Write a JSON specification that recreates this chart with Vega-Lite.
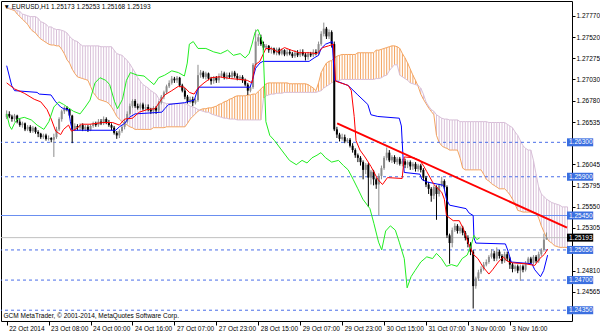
{
"$schema":"https://vega.github.io/schema/vega-lite/v6.json",
"width":571,"height":320,
"autosize":{"type":"none"},
"padding":{"left":1,"top":1,"right":28,"bottom":12},
"background":"white",
"title":{"text":"▼ EURUSD,H1  1.25173 1.25253 1.25168 1.25193","anchor":"start","offset":-9,"fontSize":6.5,"fontWeight":"normal","font":"Liberation Sans","color":"#000000","dx":3},
"config":{"view":{"stroke":"#000000","strokeWidth":1},"font":"Liberation Sans","axis":{"grid":false,"labelOverlap":false,"labelFlush":false,"labelBound":false}},
"datasets":{
"cloud":[
{"i":0,"a":1.2786,"b":1.2787},{"i":1,"a":1.2785,"b":1.2786},{"i":2,"a":1.2784,"b":1.2785},{"i":3,"a":1.2783,"b":1.2784},{"i":4,"a":1.2779,"b":1.2783},{"i":5,"a":1.2776,"b":1.2782},{"i":6,"a":1.2773,"b":1.2779},{"i":7,"a":1.2770,"b":1.2778},{"i":8,"a":1.2767,"b":1.2777},{"i":9,"a":1.2762,"b":1.2776},
{"i":10,"a":1.2759,"b":1.2776},{"i":11,"a":1.2757,"b":1.2776},{"i":12,"a":1.2753,"b":1.2774},{"i":13,"a":1.2750,"b":1.2770},{"i":14,"a":1.2748,"b":1.2769},{"i":15,"a":1.2746,"b":1.2767},{"i":16,"a":1.2744,"b":1.2764},{"i":17,"a":1.2743,"b":1.2764},{"i":18,"a":1.2743,"b":1.2762},{"i":19,"a":1.2742,"b":1.2761},
{"i":20,"a":1.2742,"b":1.2761},{"i":21,"a":1.2738,"b":1.2760},{"i":22,"a":1.2733,"b":1.2759},{"i":23,"a":1.2726,"b":1.2757},{"i":24,"a":1.2722,"b":1.2753},{"i":25,"a":1.2715,"b":1.2750},{"i":26,"a":1.2710,"b":1.2748},{"i":27,"a":1.2706,"b":1.2747},{"i":28,"a":1.2705,"b":1.2744},{"i":29,"a":1.2704,"b":1.2742},
{"i":30,"a":1.2703,"b":1.2742},{"i":31,"a":1.2702,"b":1.2742},{"i":32,"a":1.2695,"b":1.2742},{"i":33,"a":1.2688,"b":1.2742},{"i":34,"a":1.2684,"b":1.2742},{"i":35,"a":1.2680,"b":1.2742},{"i":36,"a":1.2679,"b":1.2741},{"i":37,"a":1.2678,"b":1.2741},{"i":38,"a":1.2677,"b":1.2741},{"i":39,"a":1.2675,"b":1.2741},
{"i":40,"a":1.2671,"b":1.2741},{"i":41,"a":1.2666,"b":1.2737},{"i":42,"a":1.2660,"b":1.2733},{"i":43,"a":1.2657,"b":1.2732},{"i":44,"a":1.2654,"b":1.2731},{"i":45,"a":1.2652,"b":1.2728},{"i":46,"a":1.2650,"b":1.2725},{"i":47,"a":1.2648,"b":1.2721},{"i":48,"a":1.2647,"b":1.2716},{"i":49,"a":1.2645,"b":1.2711},
{"i":50,"a":1.2645,"b":1.2705},{"i":51,"a":1.2645,"b":1.2701},{"i":52,"a":1.2645,"b":1.2697},{"i":53,"a":1.2645,"b":1.2695},{"i":54,"a":1.2645,"b":1.2693},{"i":55,"a":1.2645,"b":1.2690},{"i":56,"a":1.2647,"b":1.2688},{"i":57,"a":1.2647,"b":1.2686},{"i":58,"a":1.2647,"b":1.2681},{"i":59,"a":1.2647,"b":1.2677},
{"i":60,"a":1.2647,"b":1.2676},{"i":61,"a":1.2648,"b":1.2675},{"i":62,"a":1.2648,"b":1.2675},{"i":63,"a":1.2648,"b":1.2675},{"i":64,"a":1.2648,"b":1.2675},{"i":65,"a":1.2648,"b":1.2675},{"i":66,"a":1.2648,"b":1.2675},{"i":67,"a":1.2648,"b":1.2675},{"i":68,"a":1.2648,"b":1.2675},{"i":69,"a":1.2652,"b":1.2674},
{"i":70,"a":1.2657,"b":1.2672},{"i":71,"a":1.2660,"b":1.2671},{"i":72,"a":1.2663,"b":1.2670},{"i":73,"a":1.2666,"b":1.2668},{"i":74,"a":1.2668,"b":1.2667},{"i":75,"a":1.2669,"b":1.2666},{"i":76,"a":1.2669,"b":1.2665},{"i":77,"a":1.2670,"b":1.2665},{"i":78,"a":1.2670,"b":1.2663},{"i":79,"a":1.2671,"b":1.2662},
{"i":80,"a":1.2672,"b":1.2661},{"i":81,"a":1.2674,"b":1.2660},{"i":82,"a":1.2675,"b":1.2659},{"i":83,"a":1.2677,"b":1.2658},{"i":84,"a":1.2678,"b":1.2658},{"i":85,"a":1.2680,"b":1.2657},{"i":86,"a":1.2681,"b":1.2657},{"i":87,"a":1.2683,"b":1.2657},{"i":88,"a":1.2684,"b":1.2656},{"i":89,"a":1.2684,"b":1.2656},
{"i":90,"a":1.2684,"b":1.2656},{"i":91,"a":1.2684,"b":1.2656},{"i":92,"a":1.2685,"b":1.2656},{"i":93,"a":1.2685,"b":1.2656},{"i":94,"a":1.2686,"b":1.2656},{"i":95,"a":1.2686,"b":1.2656},{"i":96,"a":1.2689,"b":1.2656},{"i":97,"a":1.2692,"b":1.2656},{"i":98,"a":1.2695,"b":1.2681},{"i":99,"a":1.2698,"b":1.2684},
{"i":100,"a":1.2699,"b":1.2685},{"i":101,"a":1.2699,"b":1.2686},{"i":102,"a":1.2699,"b":1.2686},{"i":103,"a":1.2699,"b":1.2687},{"i":104,"a":1.2699,"b":1.2687},{"i":105,"a":1.2699,"b":1.2687},{"i":106,"a":1.2699,"b":1.2688},{"i":107,"a":1.2699,"b":1.2688},{"i":108,"a":1.2698,"b":1.2688},{"i":109,"a":1.2698,"b":1.2688},
{"i":110,"a":1.2698,"b":1.2688},{"i":111,"a":1.2698,"b":1.2688},{"i":112,"a":1.2698,"b":1.2688},{"i":113,"a":1.2698,"b":1.2688},{"i":114,"a":1.2698,"b":1.2688},{"i":115,"a":1.2697,"b":1.2688},{"i":116,"a":1.2695,"b":1.2688},{"i":117,"a":1.2693,"b":1.2688},{"i":118,"a":1.2690,"b":1.2688},{"i":119,"a":1.2699,"b":1.2689},
{"i":120,"a":1.2711,"b":1.2690},{"i":121,"a":1.2717,"b":1.2693},{"i":122,"a":1.2722,"b":1.2695},{"i":123,"a":1.2724,"b":1.2697},{"i":124,"a":1.2725,"b":1.2699},{"i":125,"a":1.2728,"b":1.2701},{"i":126,"a":1.2730,"b":1.2702},{"i":127,"a":1.2731,"b":1.2702},{"i":128,"a":1.2732,"b":1.2703},{"i":129,"a":1.2732,"b":1.2703},
{"i":130,"a":1.2732,"b":1.2703},{"i":131,"a":1.2732,"b":1.2703},{"i":132,"a":1.2732,"b":1.2703},{"i":133,"a":1.2732,"b":1.2703},{"i":134,"a":1.2734,"b":1.2703},{"i":135,"a":1.2734,"b":1.2703},{"i":136,"a":1.2734,"b":1.2703},{"i":137,"a":1.2734,"b":1.2703},{"i":138,"a":1.2734,"b":1.2703},{"i":139,"a":1.2734,"b":1.2703},
{"i":140,"a":1.2734,"b":1.2703},{"i":141,"a":1.2737,"b":1.2704},{"i":142,"a":1.2737,"b":1.2704},{"i":143,"a":1.2738,"b":1.2705},{"i":144,"a":1.2739,"b":1.2707},{"i":145,"a":1.2740,"b":1.2708},{"i":146,"a":1.2741,"b":1.2713},{"i":147,"a":1.2742,"b":1.2717},{"i":148,"a":1.2742,"b":1.2720},{"i":149,"a":1.2741,"b":1.2720},
{"i":150,"a":1.2739,"b":1.2708},{"i":151,"a":1.2733,"b":1.2706},{"i":152,"a":1.2728,"b":1.2704},{"i":153,"a":1.2722,"b":1.2702},{"i":154,"a":1.2715,"b":1.2699},{"i":155,"a":1.2708,"b":1.2698},{"i":156,"a":1.2702,"b":1.2697},{"i":157,"a":1.2695,"b":1.2696},{"i":158,"a":1.2686,"b":1.2693},{"i":159,"a":1.2680,"b":1.2686},
{"i":160,"a":1.2675,"b":1.2677},{"i":161,"a":1.2670,"b":1.2672},{"i":162,"a":1.2666,"b":1.2668},{"i":163,"a":1.2662,"b":1.2666},{"i":164,"a":1.2638,"b":1.2662},{"i":165,"a":1.2630,"b":1.2660},{"i":166,"a":1.2626,"b":1.2658},{"i":167,"a":1.2624,"b":1.2657},{"i":168,"a":1.2623,"b":1.2657},{"i":169,"a":1.2621,"b":1.2656},
{"i":170,"a":1.2621,"b":1.2656},{"i":171,"a":1.2621,"b":1.2656},{"i":172,"a":1.2621,"b":1.2656},{"i":173,"a":1.2612,"b":1.2654},{"i":174,"a":1.2600,"b":1.2654},{"i":175,"a":1.2598,"b":1.2654},{"i":176,"a":1.2598,"b":1.2654},{"i":177,"a":1.2598,"b":1.2654},{"i":178,"a":1.2598,"b":1.2654},{"i":179,"a":1.2598,"b":1.2654},
{"i":180,"a":1.2598,"b":1.2654},{"i":181,"a":1.2598,"b":1.2654},{"i":182,"a":1.2593,"b":1.2654},{"i":183,"a":1.2587,"b":1.2654},{"i":184,"a":1.2585,"b":1.2653},{"i":185,"a":1.2582,"b":1.2653},{"i":186,"a":1.2580,"b":1.2653},{"i":187,"a":1.2578,"b":1.2653},{"i":188,"a":1.2576,"b":1.2653},{"i":189,"a":1.2576,"b":1.2653},
{"i":190,"a":1.2576,"b":1.2653},{"i":191,"a":1.2573,"b":1.2651},{"i":192,"a":1.2569,"b":1.2649},{"i":193,"a":1.2564,"b":1.2647},{"i":194,"a":1.2558,"b":1.2642},{"i":195,"a":1.2551,"b":1.2638},{"i":196,"a":1.2550,"b":1.2632},{"i":197,"a":1.2549,"b":1.2626},{"i":198,"a":1.2549,"b":1.2623},{"i":199,"a":1.2549,"b":1.2621},
{"i":200,"a":1.2549,"b":1.2621},{"i":201,"a":1.2548,"b":1.2609},{"i":202,"a":1.2548,"b":1.2593},{"i":203,"a":1.2542,"b":1.2578},{"i":204,"a":1.2533,"b":1.2570},{"i":205,"a":1.2526,"b":1.2567},{"i":206,"a":1.2519,"b":1.2564},{"i":207,"a":1.2515,"b":1.2562},{"i":208,"a":1.2513,"b":1.2560},{"i":209,"a":1.2510,"b":1.2559},
{"i":210,"a":1.2509,"b":1.2558},{"i":211,"a":1.2508,"b":1.2557},{"i":212,"a":1.2508,"b":1.2555},{"i":213,"a":1.2508,"b":1.2555},{"i":214,"a":1.2508,"b":1.2555}
],
"bars":[
{"i":0,"o":1.2659,"h":1.2667,"l":1.2657,"c":1.2663},{"i":1,"o":1.2663,"h":1.2666,"l":1.2658,"c":1.2660},{"i":2,"o":1.2660,"h":1.2662,"l":1.2654,"c":1.2657},{"i":3,"o":1.2657,"h":1.2663,"l":1.2654,"c":1.2661},{"i":4,"o":1.2661,"h":1.2662,"l":1.2652,"c":1.2654},
{"i":5,"o":1.2654,"h":1.2657,"l":1.2648,"c":1.2650},{"i":6,"o":1.2650,"h":1.2654,"l":1.2647,"c":1.2652},{"i":7,"o":1.2652,"h":1.2653,"l":1.2643,"c":1.2645},{"i":8,"o":1.2645,"h":1.2650,"l":1.2643,"c":1.2648},{"i":9,"o":1.2648,"h":1.2650,"l":1.2641,"c":1.2643},
{"i":10,"o":1.2643,"h":1.2649,"l":1.2641,"c":1.2647},{"i":11,"o":1.2647,"h":1.2648,"l":1.2640,"c":1.2642},{"i":12,"o":1.2642,"h":1.2644,"l":1.2636,"c":1.2640},{"i":13,"o":1.2640,"h":1.2641,"l":1.2634,"c":1.2636},{"i":14,"o":1.2636,"h":1.2640,"l":1.2634,"c":1.2638},
{"i":15,"o":1.2638,"h":1.2640,"l":1.2632,"c":1.2634},{"i":16,"o":1.2634,"h":1.2638,"l":1.2632,"c":1.2635},{"i":17,"o":1.2635,"h":1.2636,"l":1.2630,"c":1.2633},{"i":18,"o":1.2633,"h":1.2640,"l":1.2613,"c":1.2636},{"i":19,"o":1.2636,"h":1.2648,"l":1.2634,"c":1.2645},
{"i":20,"o":1.2645,"h":1.2659,"l":1.2643,"c":1.2657},{"i":21,"o":1.2657,"h":1.2668,"l":1.2654,"c":1.2666},{"i":22,"o":1.2666,"h":1.2672,"l":1.2663,"c":1.2670},{"i":23,"o":1.2670,"h":1.2672,"l":1.2666,"c":1.2668},{"i":24,"o":1.2668,"h":1.2669,"l":1.2659,"c":1.2661},
{"i":25,"o":1.2661,"h":1.2662,"l":1.2629,"c":1.2645},{"i":26,"o":1.2645,"h":1.2652,"l":1.2643,"c":1.2649},{"i":27,"o":1.2649,"h":1.2651,"l":1.2644,"c":1.2647},{"i":28,"o":1.2647,"h":1.2652,"l":1.2644,"c":1.2650},{"i":29,"o":1.2650,"h":1.2652,"l":1.2643,"c":1.2645},
{"i":30,"o":1.2645,"h":1.2650,"l":1.2643,"c":1.2648},{"i":31,"o":1.2648,"h":1.2650,"l":1.2642,"c":1.2644},{"i":32,"o":1.2644,"h":1.2651,"l":1.2643,"c":1.2649},{"i":33,"o":1.2649,"h":1.2654,"l":1.2647,"c":1.2652},{"i":34,"o":1.2652,"h":1.2654,"l":1.2648,"c":1.2650},
{"i":35,"o":1.2650,"h":1.2657,"l":1.2648,"c":1.2654},{"i":36,"o":1.2654,"h":1.2657,"l":1.2650,"c":1.2652},{"i":37,"o":1.2652,"h":1.2660,"l":1.2650,"c":1.2657},{"i":38,"o":1.2657,"h":1.2659,"l":1.2651,"c":1.2653},{"i":39,"o":1.2653,"h":1.2656,"l":1.2648,"c":1.2650},
{"i":40,"o":1.2650,"h":1.2652,"l":1.2644,"c":1.2647},{"i":41,"o":1.2647,"h":1.2649,"l":1.2639,"c":1.2641},{"i":42,"o":1.2641,"h":1.2643,"l":1.2634,"c":1.2638},{"i":43,"o":1.2638,"h":1.2645,"l":1.2635,"c":1.2643},{"i":44,"o":1.2643,"h":1.2650,"l":1.2641,"c":1.2648},
{"i":45,"o":1.2648,"h":1.2657,"l":1.2645,"c":1.2654},{"i":46,"o":1.2654,"h":1.2666,"l":1.2652,"c":1.2663},{"i":47,"o":1.2663,"h":1.2675,"l":1.2661,"c":1.2672},{"i":48,"o":1.2672,"h":1.2680,"l":1.2670,"c":1.2678},{"i":49,"o":1.2678,"h":1.2680,"l":1.2670,"c":1.2672},
{"i":50,"o":1.2672,"h":1.2675,"l":1.2668,"c":1.2670},{"i":51,"o":1.2670,"h":1.2676,"l":1.2668,"c":1.2674},{"i":52,"o":1.2674,"h":1.2676,"l":1.2667,"c":1.2669},{"i":53,"o":1.2669,"h":1.2674,"l":1.2667,"c":1.2671},{"i":54,"o":1.2671,"h":1.2674,"l":1.2666,"c":1.2668},
{"i":55,"o":1.2668,"h":1.2670,"l":1.2663,"c":1.2666},{"i":56,"o":1.2666,"h":1.2672,"l":1.2663,"c":1.2670},{"i":57,"o":1.2670,"h":1.2672,"l":1.2663,"c":1.2667},{"i":58,"o":1.2667,"h":1.2678,"l":1.2665,"c":1.2676},{"i":59,"o":1.2676,"h":1.2685,"l":1.2674,"c":1.2683},
{"i":60,"o":1.2683,"h":1.2690,"l":1.2680,"c":1.2688},{"i":61,"o":1.2688,"h":1.2697,"l":1.2686,"c":1.2695},{"i":62,"o":1.2695,"h":1.2702,"l":1.2693,"c":1.2699},{"i":63,"o":1.2699,"h":1.2707,"l":1.2697,"c":1.2704},{"i":64,"o":1.2704,"h":1.2706,"l":1.2699,"c":1.2702},
{"i":65,"o":1.2702,"h":1.2707,"l":1.2699,"c":1.2705},{"i":66,"o":1.2705,"h":1.2706,"l":1.2694,"c":1.2696},{"i":67,"o":1.2696,"h":1.2698,"l":1.2688,"c":1.2690},{"i":68,"o":1.2690,"h":1.2693,"l":1.2680,"c":1.2683},{"i":69,"o":1.2683,"h":1.2685,"l":1.2675,"c":1.2677},
{"i":70,"o":1.2677,"h":1.2683,"l":1.2675,"c":1.2680},{"i":71,"o":1.2680,"h":1.2683,"l":1.2672,"c":1.2676},{"i":72,"o":1.2676,"h":1.2681,"l":1.2674,"c":1.2679},{"i":73,"o":1.2679,"h":1.2720,"l":1.2677,"c":1.2708},{"i":74,"o":1.2708,"h":1.2714,"l":1.2705,"c":1.2711},
{"i":75,"o":1.2711,"h":1.2713,"l":1.2704,"c":1.2706},{"i":76,"o":1.2706,"h":1.2712,"l":1.2703,"c":1.2710},{"i":77,"o":1.2710,"h":1.2711,"l":1.2702,"c":1.2704},{"i":78,"o":1.2704,"h":1.2706,"l":1.2697,"c":1.2701},{"i":79,"o":1.2701,"h":1.2707,"l":1.2698,"c":1.2705},
{"i":80,"o":1.2705,"h":1.2707,"l":1.2699,"c":1.2702},{"i":81,"o":1.2702,"h":1.2710,"l":1.2699,"c":1.2707},{"i":82,"o":1.2707,"h":1.2713,"l":1.2705,"c":1.2710},{"i":83,"o":1.2710,"h":1.2712,"l":1.2703,"c":1.2705},{"i":84,"o":1.2705,"h":1.2711,"l":1.2703,"c":1.2708},
{"i":85,"o":1.2708,"h":1.2711,"l":1.2704,"c":1.2706},{"i":86,"o":1.2706,"h":1.2713,"l":1.2704,"c":1.2711},{"i":87,"o":1.2711,"h":1.2713,"l":1.2705,"c":1.2707},{"i":88,"o":1.2707,"h":1.2710,"l":1.2702,"c":1.2704},{"i":89,"o":1.2704,"h":1.2708,"l":1.2702,"c":1.2706},
{"i":90,"o":1.2706,"h":1.2708,"l":1.2699,"c":1.2702},{"i":91,"o":1.2702,"h":1.2704,"l":1.2695,"c":1.2697},{"i":92,"o":1.2697,"h":1.2699,"l":1.2685,"c":1.2690},{"i":93,"o":1.2690,"h":1.2696,"l":1.2688,"c":1.2694},{"i":94,"o":1.2694,"h":1.2722,"l":1.2692,"c":1.2720},
{"i":95,"o":1.2720,"h":1.2761,"l":1.2717,"c":1.2747},{"i":96,"o":1.2747,"h":1.2756,"l":1.2742,"c":1.2752},{"i":97,"o":1.2752,"h":1.2755,"l":1.2742,"c":1.2744},{"i":98,"o":1.2744,"h":1.2747,"l":1.2737,"c":1.2740},{"i":99,"o":1.2740,"h":1.2744,"l":1.2738,"c":1.2742},
{"i":100,"o":1.2742,"h":1.2743,"l":1.2734,"c":1.2737},{"i":101,"o":1.2737,"h":1.2741,"l":1.2733,"c":1.2739},{"i":102,"o":1.2739,"h":1.2740,"l":1.2732,"c":1.2734},{"i":103,"o":1.2734,"h":1.2740,"l":1.2731,"c":1.2738},{"i":104,"o":1.2738,"h":1.2740,"l":1.2731,"c":1.2733},
{"i":105,"o":1.2733,"h":1.2739,"l":1.2731,"c":1.2737},{"i":106,"o":1.2737,"h":1.2738,"l":1.2730,"c":1.2732},{"i":107,"o":1.2732,"h":1.2738,"l":1.2730,"c":1.2735},{"i":108,"o":1.2735,"h":1.2738,"l":1.2731,"c":1.2733},{"i":109,"o":1.2733,"h":1.2735,"l":1.2728,"c":1.2730},
{"i":110,"o":1.2730,"h":1.2737,"l":1.2728,"c":1.2734},{"i":111,"o":1.2734,"h":1.2737,"l":1.2729,"c":1.2731},{"i":112,"o":1.2731,"h":1.2738,"l":1.2729,"c":1.2735},{"i":113,"o":1.2735,"h":1.2738,"l":1.2730,"c":1.2732},{"i":114,"o":1.2732,"h":1.2734,"l":1.2725,"c":1.2729},
{"i":115,"o":1.2729,"h":1.2735,"l":1.2726,"c":1.2733},{"i":116,"o":1.2733,"h":1.2735,"l":1.2729,"c":1.2731},{"i":117,"o":1.2731,"h":1.2738,"l":1.2729,"c":1.2735},{"i":118,"o":1.2735,"h":1.2738,"l":1.2731,"c":1.2733},{"i":119,"o":1.2733,"h":1.2747,"l":1.2731,"c":1.2744},
{"i":120,"o":1.2744,"h":1.2759,"l":1.2742,"c":1.2756},{"i":121,"o":1.2756,"h":1.2769,"l":1.2753,"c":1.2762},{"i":122,"o":1.2762,"h":1.2764,"l":1.2750,"c":1.2753},{"i":123,"o":1.2753,"h":1.2761,"l":1.2750,"c":1.2758},{"i":124,"o":1.2758,"h":1.2760,"l":1.2740,"c":1.2744},
{"i":125,"o":1.2744,"h":1.2747,"l":1.2643,"c":1.2645},{"i":126,"o":1.2645,"h":1.2648,"l":1.2635,"c":1.2639},{"i":127,"o":1.2639,"h":1.2641,"l":1.2631,"c":1.2634},{"i":128,"o":1.2634,"h":1.2640,"l":1.2632,"c":1.2636},{"i":129,"o":1.2636,"h":1.2639,"l":1.2629,"c":1.2631},
{"i":130,"o":1.2631,"h":1.2635,"l":1.2629,"c":1.2633},{"i":131,"o":1.2633,"h":1.2635,"l":1.2624,"c":1.2626},{"i":132,"o":1.2626,"h":1.2629,"l":1.2618,"c":1.2621},{"i":133,"o":1.2621,"h":1.2623,"l":1.2612,"c":1.2615},{"i":134,"o":1.2615,"h":1.2617,"l":1.2607,"c":1.2612},
{"i":135,"o":1.2612,"h":1.2614,"l":1.2603,"c":1.2607},{"i":136,"o":1.2607,"h":1.2609,"l":1.2587,"c":1.2598},{"i":137,"o":1.2598,"h":1.2606,"l":1.2593,"c":1.2604},{"i":138,"o":1.2604,"h":1.2606,"l":1.2555,"c":1.2589},{"i":139,"o":1.2589,"h":1.2598,"l":1.2581,"c":1.2596},
{"i":140,"o":1.2596,"h":1.2598,"l":1.2580,"c":1.2587},{"i":141,"o":1.2587,"h":1.2589,"l":1.2576,"c":1.2581},{"i":142,"o":1.2581,"h":1.2594,"l":1.2545,"c":1.2591},{"i":143,"o":1.2591,"h":1.2603,"l":1.2587,"c":1.2600},{"i":144,"o":1.2600,"h":1.2614,"l":1.2598,"c":1.2612},
{"i":145,"o":1.2612,"h":1.2624,"l":1.2609,"c":1.2618},{"i":146,"o":1.2618,"h":1.2621,"l":1.2607,"c":1.2609},{"i":147,"o":1.2609,"h":1.2615,"l":1.2606,"c":1.2613},{"i":148,"o":1.2613,"h":1.2615,"l":1.2605,"c":1.2607},{"i":149,"o":1.2607,"h":1.2613,"l":1.2604,"c":1.2611},
{"i":150,"o":1.2611,"h":1.2613,"l":1.2603,"c":1.2605},{"i":151,"o":1.2605,"h":1.2611,"l":1.2602,"c":1.2608},{"i":152,"o":1.2608,"h":1.2611,"l":1.2600,"c":1.2604},{"i":153,"o":1.2604,"h":1.2609,"l":1.2600,"c":1.2607},{"i":154,"o":1.2607,"h":1.2609,"l":1.2598,"c":1.2602},
{"i":155,"o":1.2602,"h":1.2607,"l":1.2598,"c":1.2605},{"i":156,"o":1.2605,"h":1.2607,"l":1.2596,"c":1.2599},{"i":157,"o":1.2599,"h":1.2605,"l":1.2596,"c":1.2603},{"i":158,"o":1.2603,"h":1.2605,"l":1.2595,"c":1.2598},{"i":159,"o":1.2598,"h":1.2600,"l":1.2585,"c":1.2589},
{"i":160,"o":1.2589,"h":1.2591,"l":1.2578,"c":1.2581},{"i":161,"o":1.2581,"h":1.2584,"l":1.2570,"c":1.2576},{"i":162,"o":1.2576,"h":1.2578,"l":1.2561,"c":1.2568},{"i":163,"o":1.2568,"h":1.2580,"l":1.2564,"c":1.2578},{"i":164,"o":1.2578,"h":1.2580,"l":1.2540,"c":1.2570},
{"i":165,"o":1.2570,"h":1.2582,"l":1.2567,"c":1.2580},{"i":166,"o":1.2580,"h":1.2590,"l":1.2578,"c":1.2585},{"i":167,"o":1.2585,"h":1.2587,"l":1.2576,"c":1.2578},{"i":168,"o":1.2578,"h":1.2580,"l":1.2519,"c":1.2522},{"i":169,"o":1.2522,"h":1.2524,"l":1.2489,"c":1.2513},
{"i":170,"o":1.2513,"h":1.2531,"l":1.2508,"c":1.2528},{"i":171,"o":1.2528,"h":1.2536,"l":1.2526,"c":1.2533},{"i":172,"o":1.2533,"h":1.2535,"l":1.2524,"c":1.2527},{"i":173,"o":1.2527,"h":1.2533,"l":1.2524,"c":1.2531},{"i":174,"o":1.2531,"h":1.2533,"l":1.2522,"c":1.2525},
{"i":175,"o":1.2525,"h":1.2527,"l":1.2516,"c":1.2519},{"i":176,"o":1.2519,"h":1.2522,"l":1.2508,"c":1.2512},{"i":177,"o":1.2512,"h":1.2514,"l":1.2499,"c":1.2503},{"i":178,"o":1.2503,"h":1.2505,"l":1.2437,"c":1.2463},{"i":179,"o":1.2463,"h":1.2474,"l":1.2460,"c":1.2472},
{"i":180,"o":1.2472,"h":1.2482,"l":1.2469,"c":1.2479},{"i":181,"o":1.2479,"h":1.2486,"l":1.2477,"c":1.2483},{"i":182,"o":1.2483,"h":1.2491,"l":1.2481,"c":1.2488},{"i":183,"o":1.2488,"h":1.2494,"l":1.2486,"c":1.2491},{"i":184,"o":1.2491,"h":1.2499,"l":1.2489,"c":1.2497},
{"i":185,"o":1.2497,"h":1.2506,"l":1.2495,"c":1.2501},{"i":186,"o":1.2501,"h":1.2504,"l":1.2492,"c":1.2495},{"i":187,"o":1.2495,"h":1.2508,"l":1.2492,"c":1.2503},{"i":188,"o":1.2503,"h":1.2505,"l":1.2495,"c":1.2498},{"i":189,"o":1.2498,"h":1.2500,"l":1.2489,"c":1.2492},
{"i":190,"o":1.2492,"h":1.2503,"l":1.2490,"c":1.2500},{"i":191,"o":1.2500,"h":1.2503,"l":1.2492,"c":1.2495},{"i":192,"o":1.2495,"h":1.2497,"l":1.2483,"c":1.2488},{"i":193,"o":1.2488,"h":1.2490,"l":1.2479,"c":1.2483},{"i":194,"o":1.2483,"h":1.2488,"l":1.2480,"c":1.2486},
{"i":195,"o":1.2486,"h":1.2488,"l":1.2478,"c":1.2481},{"i":196,"o":1.2481,"h":1.2488,"l":1.2469,"c":1.2486},{"i":197,"o":1.2486,"h":1.2488,"l":1.2479,"c":1.2482},{"i":198,"o":1.2482,"h":1.2492,"l":1.2480,"c":1.2490},{"i":199,"o":1.2490,"h":1.2497,"l":1.2488,"c":1.2495},
{"i":200,"o":1.2495,"h":1.2497,"l":1.2488,"c":1.2490},{"i":201,"o":1.2490,"h":1.2499,"l":1.2488,"c":1.2497},{"i":202,"o":1.2497,"h":1.2499,"l":1.2490,"c":1.2492},{"i":203,"o":1.2492,"h":1.2503,"l":1.2490,"c":1.2500},{"i":204,"o":1.2500,"h":1.2507,"l":1.2498,"c":1.2505},
{"i":205,"o":1.2505,"h":1.2524,"l":1.2503,"c":1.2517},{"i":206,"o":1.25173,"h":1.25253,"l":1.25168,"c":1.25193}
],
"tenkan":[
{"i":0,"v":1.2699},{"i":3,"v":1.2692},{"i":6.7,"v":1.2687},{"i":10.5,"v":1.2680},{"i":13,"v":1.2677},{"i":15.4,"v":1.2668},{"i":17,"v":1.2657},{"i":18.7,"v":1.2643},{"i":20.6,"v":1.2639},{"i":21.7,"v":1.2645},{"i":23.6,"v":1.2650},{"i":24.7,"v":1.2643},{"i":26.2,"v":1.2645},{"i":28.5,"v":1.2651},{"i":31.8,"v":1.2651},{"i":36.7,"v":1.2653},{"i":40.4,"v":1.2653},{"i":43,"v":1.2650},{"i":45,"v":1.2657},{"i":48,"v":1.2658},{"i":50.6,"v":1.2665},{"i":53.6,"v":1.2668},{"i":56.6,"v":1.2669},{"i":58.4,"v":1.2677},{"i":60.3,"v":1.2685},{"i":63,"v":1.2690},{"i":65.5,"v":1.2695},{"i":67.8,"v":1.2694},{"i":69.7,"v":1.2688},{"i":71.5,"v":1.2686},{"i":73,"v":1.2693},{"i":75.3,"v":1.2699},{"i":78,"v":1.2705},{"i":81.3,"v":1.2706},{"i":85.4,"v":1.2704},{"i":89,"v":1.2703},{"i":91.8,"v":1.2702},{"i":93.6,"v":1.2699},{"i":94.8,"v":1.2720},{"i":96.6,"v":1.2724},{"i":98.9,"v":1.2739},{"i":101,"v":1.2739},{"i":103.4,"v":1.2735},{"i":106,"v":1.2740},{"i":108.6,"v":1.2737},{"i":111.6,"v":1.2734},{"i":115.4,"v":1.2734},{"i":118.4,"v":1.2733},{"i":120.6,"v":1.2740},{"i":122.8,"v":1.2742},{"i":124.7,"v":1.2744},{"i":125.5,"v":1.2701},{"i":130.3,"v":1.2696},{"i":131.5,"v":1.2690},{"i":132.6,"v":1.2660},{"i":133.3,"v":1.2632},{"i":134.8,"v":1.2621},{"i":136.7,"v":1.2613},{"i":139,"v":1.2602},{"i":141.6,"v":1.2587},{"i":143.4,"v":1.2581},{"i":145.3,"v":1.2589},{"i":150.9,"v":1.2588},{"i":151.7,"v":1.2613},{"i":155.4,"v":1.2612},{"i":157.7,"v":1.2609},{"i":159.2,"v":1.2602},{"i":160.3,"v":1.2596},{"i":163,"v":1.2581},{"i":166,"v":1.2572},{"i":167,"v":1.2564},{"i":167.8,"v":1.2545},{"i":170.4,"v":1.2539},{"i":172.7,"v":1.2539},{"i":174.5,"v":1.2528},{"i":176,"v":1.2514},{"i":178,"v":1.2500},{"i":179.8,"v":1.2495},{"i":181.6,"v":1.2486},{"i":184,"v":1.2477},{"i":185.4,"v":1.2482},{"i":187.6,"v":1.2491},{"i":189.5,"v":1.2497},{"i":191,"v":1.2492},{"i":193,"v":1.2490},{"i":197.8,"v":1.2489},{"i":201.5,"v":1.2487},{"i":203.4,"v":1.2495},{"i":205.2,"v":1.2500},{"i":206.4,"v":1.2506}
],
"kijun":[
{"i":0,"v":1.2719},{"i":1.9,"v":1.2696},{"i":3,"v":1.2690},{"i":11.6,"v":1.2688},{"i":12.4,"v":1.2686},{"i":16.9,"v":1.2685},{"i":18.7,"v":1.2677},{"i":20.6,"v":1.2671},{"i":21.7,"v":1.2669},{"i":23.6,"v":1.2668},{"i":24.3,"v":1.2654},{"i":25,"v":1.2644},{"i":41.6,"v":1.2644},{"i":43,"v":1.2648},{"i":45,"v":1.2652},{"i":46.8,"v":1.2659},{"i":49,"v":1.2663},{"i":59.2,"v":1.2665},{"i":60.3,"v":1.2669},{"i":61.8,"v":1.2674},{"i":67.8,"v":1.2676},{"i":71.6,"v":1.2679},{"i":72.7,"v":1.2690},{"i":73.5,"v":1.2694},{"i":92.9,"v":1.2694},{"i":94,"v":1.2705},{"i":95,"v":1.2716},{"i":96.6,"v":1.2722},{"i":97.8,"v":1.2724},{"i":115.4,"v":1.2724},{"i":117.3,"v":1.2728},{"i":119,"v":1.2731},{"i":120,"v":1.2739},{"i":121.7,"v":1.2744},{"i":124.2,"v":1.2747},{"i":125.1,"v":1.2702},{"i":130.3,"v":1.2696},{"i":134,"v":1.2685},{"i":137.8,"v":1.2674},{"i":139,"v":1.2662},{"i":141.6,"v":1.2660},{"i":149.8,"v":1.2658},{"i":150.6,"v":1.2649},{"i":151.3,"v":1.2609},{"i":151.7,"v":1.2595},{"i":157.7,"v":1.2593},{"i":158.4,"v":1.2587},{"i":160.3,"v":1.2584},{"i":166.7,"v":1.2580},{"i":167.8,"v":1.2564},{"i":169,"v":1.2557},{"i":175.3,"v":1.2553},{"i":176.4,"v":1.2548},{"i":178,"v":1.2545},{"i":178.3,"v":1.2519},{"i":179,"v":1.2513},{"i":190.3,"v":1.2512},{"i":191.4,"v":1.2503},{"i":192.5,"v":1.2491},{"i":200.4,"v":1.2489},{"i":201.5,"v":1.2482},{"i":203.7,"v":1.2474},{"i":204.9,"v":1.2481},{"i":206.4,"v":1.2499}
],
"chikou":[
{"i":0,"v":1.2663},{"i":1.1,"v":1.2649},{"i":1.9,"v":1.2645},{"i":3,"v":1.2652},{"i":4.1,"v":1.2657},{"i":6.7,"v":1.2659},{"i":9.4,"v":1.2656},{"i":11.6,"v":1.2650},{"i":14.2,"v":1.2645},{"i":16.1,"v":1.2654},{"i":18,"v":1.2671},{"i":19.9,"v":1.2677},{"i":21.7,"v":1.2674},{"i":23.6,"v":1.2670},{"i":25.5,"v":1.2666},{"i":28,"v":1.2663},{"i":30,"v":1.2671},{"i":31.8,"v":1.2679},{"i":33.7,"v":1.2699},{"i":35.6,"v":1.2705},{"i":37.8,"v":1.2702},{"i":39.3,"v":1.2697},{"i":41.2,"v":1.2677},{"i":42.3,"v":1.2669},{"i":44.2,"v":1.2680},{"i":45.7,"v":1.2702},{"i":47.2,"v":1.2711},{"i":49.8,"v":1.2708},{"i":52.4,"v":1.2707},{"i":54.3,"v":1.2702},{"i":56.2,"v":1.2697},{"i":58,"v":1.2705},{"i":60.3,"v":1.2708},{"i":63,"v":1.2713},{"i":65.5,"v":1.2711},{"i":67.8,"v":1.2707},{"i":68.9,"v":1.2722},{"i":69.7,"v":1.2744},{"i":71.2,"v":1.2747},{"i":73,"v":1.2739},{"i":76,"v":1.2739},{"i":79,"v":1.2735},{"i":81.6,"v":1.2733},{"i":84.3,"v":1.2737},{"i":86.5,"v":1.2731},{"i":89.1,"v":1.2733},{"i":91,"v":1.2728},{"i":92.5,"v":1.2733},{"i":93.6,"v":1.2744},{"i":94.8,"v":1.2758},{"i":95.9,"v":1.2761},{"i":97,"v":1.2752},{"i":97.8,"v":1.2744},{"i":98.9,"v":1.2654},{"i":100.4,"v":1.2638},{"i":102.2,"v":1.2632},{"i":104.9,"v":1.2621},{"i":107.9,"v":1.2609},{"i":110.5,"v":1.2604},{"i":112.7,"v":1.2609},{"i":114.6,"v":1.2606},{"i":116.5,"v":1.2612},{"i":118.4,"v":1.2615},{"i":119.9,"v":1.2618},{"i":121.7,"v":1.2612},{"i":124,"v":1.2607},{"i":126.6,"v":1.2609},{"i":128.5,"v":1.2603},{"i":130.3,"v":1.2598},{"i":132.2,"v":1.2587},{"i":134,"v":1.2576},{"i":135.9,"v":1.2564},{"i":138.6,"v":1.2553},{"i":140.1,"v":1.2536},{"i":141.9,"v":1.2514},{"i":143.1,"v":1.2505},{"i":144.6,"v":1.2527},{"i":146.4,"v":1.2533},{"i":148.3,"v":1.2528},{"i":149.8,"v":1.2514},{"i":151.7,"v":1.2495},{"i":152.8,"v":1.2461},{"i":154.3,"v":1.2474},{"i":155.8,"v":1.2481},{"i":158,"v":1.2491},{"i":160.3,"v":1.2497},{"i":162.5,"v":1.2495},{"i":164,"v":1.2501},{"i":165.9,"v":1.2495},{"i":167.8,"v":1.2486},{"i":169.7,"v":1.2488},{"i":171.9,"v":1.2486},{"i":173.8,"v":1.2495},{"i":175.7,"v":1.2499},{"i":177.2,"v":1.2510},{"i":178.3,"v":1.2522},{"i":179.4,"v":1.2517},{"i":180.5,"v":1.2519}
],
"trend":[{"i":126.1,"v":1.2652},{"i":213.8,"v":1.2531}],
"dashed":[{"p":1.2630},{"p":1.2590},{"p":1.2505},{"p":1.2470},{"p":1.2435}],
"solid":[{"p":1.2545}],
"bid":[{"p":1.25193}],
"boxes":[{"p":1.2630,"t":"1.26300","k":"b"},{"p":1.2590,"t":"1.25900","k":"b"},{"p":1.2545,"t":"1.25450","k":"b"},{"p":1.2505,"t":"1.25050","k":"b"},{"p":1.2470,"t":"1.24700","k":"b"},{"p":1.2435,"t":"1.24350","k":"b"},{"p":1.25193,"t":"1.25193","k":"k"}]
},
"layer":[
{"data":{"name":"cloud"},"mark":{"type":"rule","strokeWidth":1,"clip":true},
 "encoding":{
  "x":{"field":"i","type":"quantitative","scale":{"domain":[-0.26,213.8],"nice":false,"zero":false},
   "axis":{"values":[0,16,32,48,64,80,96,112,128,144,160,176,192],"tickCount":40,
    "labelExpr":"['22 Oct 2014','23 Oct 08:00','24 Oct 00:00','24 Oct 16:00','27 Oct 07:00','27 Oct 23:00','28 Oct 15:00','29 Oct 07:00','29 Oct 23:00','30 Oct 15:00','31 Oct 07:00','3 Nov 00:00','3 Nov 16:00'][round(datum.value/16)]",
    "labelAlign":"left","labelOffset":2,"labelPadding":0,"labelFontSize":6.5,"labelFont":"Liberation Sans","labelColor":"#000000","tickSize":4,"tickColor":"#000000","domain":false,"grid":false,"labelFlush":false,"labelOverlap":false,
    "title":"GCM MetaTrader, © 2001-2014, MetaQuotes Software Corp.","titleX":2,"titleY":-6,"titleAlign":"left","titleAnchor":"start","titleBaseline":"middle","titleFontSize":6.5,"titleFontWeight":"normal","titleFont":"Liberation Sans","titleColor":"#000000"}},
  "y":{"field":"a","type":"quantitative","scale":{"domain":[1.24283,1.27883],"nice":false,"zero":false},
   "axis":{"orient":"right","values":[1.2777,1.2752,1.27275,1.2703,1.2678,1.26535,1.26045,1.25795,1.2555,1.25305,1.2481,1.24565],"tickCount":40,"format":".5f","labelFontSize":6.5,"labelFont":"Liberation Sans","labelColor":"#000000","tickSize":3,"tickColor":"#000000","labelPadding":1,"domain":false,"grid":false,"title":null,"labelFlush":false,"labelOverlap":false}},
  "y2":{"field":"b"},
  "color":{"condition":{"test":"datum.a > datum.b","value":"#F4A460"},"value":"#D8BFD8"}
 }},
{"data":{"name":"cloud"},"mark":{"type":"line","strokeWidth":1,"color":"#F4A460","clip":true},
 "encoding":{"x":{"field":"i","type":"quantitative"},"y":{"field":"a","type":"quantitative"}}},
{"data":{"name":"cloud"},"mark":{"type":"line","strokeWidth":1,"color":"#D8BFD8","clip":true},
 "encoding":{"x":{"field":"i","type":"quantitative"},"y":{"field":"b","type":"quantitative"}}},
{"data":{"name":"dashed"},"mark":{"type":"rule","strokeDash":[3,3],"color":"#4a6ee8","strokeWidth":1},
 "encoding":{"y":{"field":"p","type":"quantitative"}}},
{"data":{"name":"solid"},"mark":{"type":"rule","color":"#6a8ff0","strokeWidth":1},
 "encoding":{"y":{"field":"p","type":"quantitative"}}},
{"data":{"name":"bid"},"mark":{"type":"rule","color":"#c0c0c0","strokeWidth":1},
 "encoding":{"y":{"field":"p","type":"quantitative"}}},
{"data":{"name":"bars"},"mark":{"type":"rule","strokeWidth":1},
 "encoding":{"x":{"field":"i","type":"quantitative"},"y":{"field":"l","type":"quantitative"},"y2":{"field":"h"},
  "color":{"condition":{"test":"datum.c >= datum.o","value":"#8c8c8c"},"value":"#000000"}}},
{"data":{"name":"bars"},"mark":{"type":"bar","width":2},
 "encoding":{"x":{"field":"i","type":"quantitative"},"y":{"field":"o","type":"quantitative"},"y2":{"field":"c"},
  "color":{"condition":{"test":"datum.c >= datum.o","value":"#8c8c8c"},"value":"#000000"}}},
{"data":{"name":"kijun"},"mark":{"type":"line","color":"#0000ff","strokeWidth":1,"clip":true},
 "encoding":{"x":{"field":"i","type":"quantitative"},"y":{"field":"v","type":"quantitative"}}},
{"data":{"name":"tenkan"},"mark":{"type":"line","color":"#ff0000","strokeWidth":1,"clip":true},
 "encoding":{"x":{"field":"i","type":"quantitative"},"y":{"field":"v","type":"quantitative"}}},
{"data":{"name":"chikou"},"mark":{"type":"line","color":"#22ee22","strokeWidth":1,"clip":true},
 "encoding":{"x":{"field":"i","type":"quantitative"},"y":{"field":"v","type":"quantitative"}}},
{"data":{"name":"trend"},"mark":{"type":"line","color":"#ff0000","strokeWidth":2,"clip":true},
 "encoding":{"x":{"field":"i","type":"quantitative"},"y":{"field":"v","type":"quantitative"}}},
{"data":{"name":"boxes"},"mark":{"type":"bar","height":8},
 "encoding":{"x":{"datum":213.8,"type":"quantitative"},"x2":{"datum":223.8},"y":{"field":"p","type":"quantitative"},
  "color":{"condition":{"test":"datum.k == 'k'","value":"#000000"},"value":"#3b6fe0"}}},
{"data":{"name":"boxes"},"mark":{"type":"text","align":"left","baseline":"middle","dx":2,"fontSize":6.5,"font":"Liberation Sans","color":"#ffffff"},
 "encoding":{"x":{"datum":213.8,"type":"quantitative"},"y":{"field":"p","type":"quantitative"},"text":{"field":"t"}}}
]
}
